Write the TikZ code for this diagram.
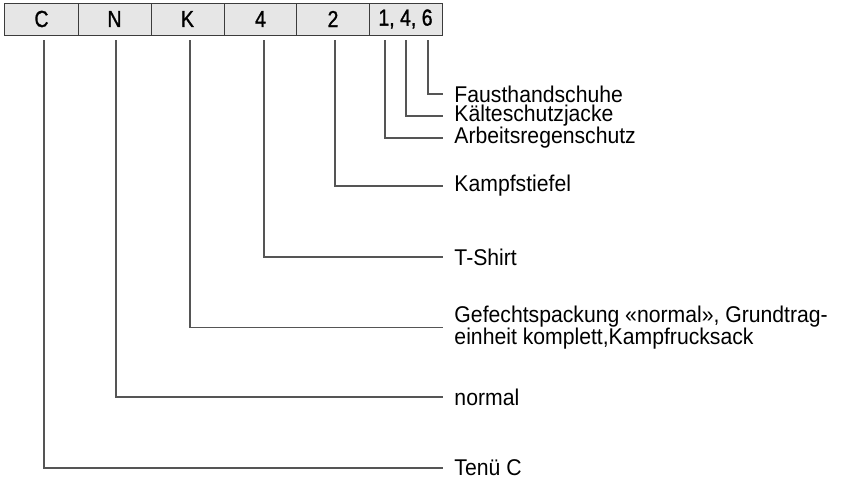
\documentclass[tikz,border=0pt]{standalone}
\usepackage{fontspec}
\setmainfont{Liberation Sans}[FakeStretch=0.93]
\newfontfamily\leistenfont{Liberation Sans}[FakeBold=1.2, FakeStretch=0.84]
\usepackage{xcolor}
\definecolor{grisLinea}{RGB}{85, 85, 85}
\definecolor{grisRahmen}{RGB}{60, 60, 60}
\definecolor{grisFeld}{RGB}{230, 230, 230}
\usepackage{tikz}
\usetikzlibrary{positioning}
\tikzstyle{feld}  =[rectangle, draw=grisRahmen, fill=grisFeld,
                    line width=0.7pt, minimum width=1.825cm,
                    minimum height=0.8cm, inner sep=0pt, outer sep=0pt,
                    font=\leistenfont\fontsize{16.5}{18}\selectfont]
\tikzstyle{linie} =[grisLinea, line width=0.75pt]
\tikzstyle{beschr}=[anchor=west, inner xsep=0.28cm, inner ysep=0pt,
                    align=left, font=\fontsize{16.2}{10.5}\selectfont]

\begin{document}
\begin{tikzpicture}[x=0.025cm,y=-0.025cm]
    \useasboundingbox (0,0) rectangle (845,482);

    % Kopfleiste
    \foreach \n/\t/\x in {C/C/41.5,N/N/114.5,K/K/187.5,V/4/260.5,Z/2/333,E/{1, 4, 6}/405.5}
        \draw (\x,19) node (z\n) [feld] {\t};

    % Ansatzpunkte unter der Leiste
    \foreach \n/\x in {C/44,N/116,K/190,V/264,Z/335,a/385,b/406,c/428}
        \coordinate (t\n) at (\x,40);

    % Beschriftungen
    \draw (443,94) node (lc) [beschr] {Fausthandschuhe};
    \draw (443,116) node (lb) [beschr] {Kälteschutzjacke};
    \draw (443,138) node (la) [beschr] {Arbeitsregenschutz};
    \draw (443,186) node (lZ) [beschr] {Kampfstiefel};
    \draw (443,257) node (lV) [beschr] {T-Shirt};
    \draw (443,327.5) node (lK) [beschr] {Gefechtspackung «normal», Grundtrag-\\einheit komplett,Kampfrucksack};
    \draw (443,397) node (lN) [beschr] {normal};
    \draw (443,468) node (lC) [beschr] {Tenü C};

    \foreach \i in {C,N,K,V,Z,a,b,c}
        \draw [linie] (t\i) |- (l\i.west);

\end{tikzpicture}
\end{document}
